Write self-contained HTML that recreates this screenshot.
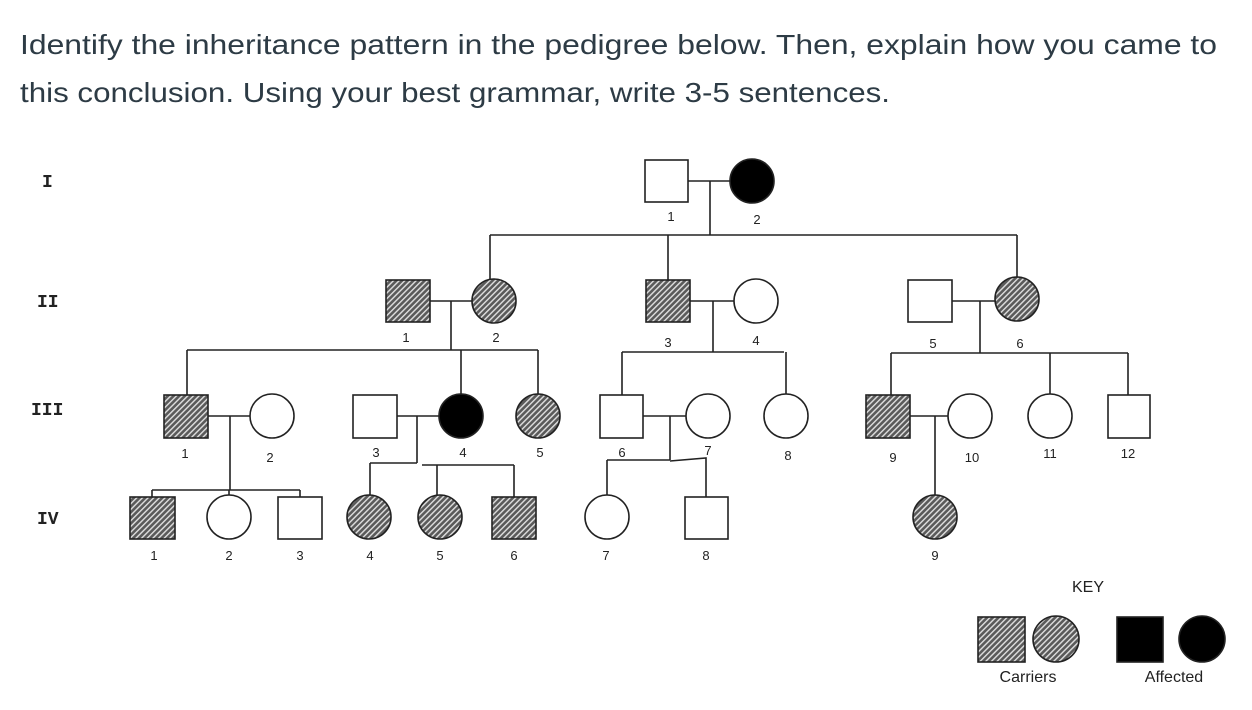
<!DOCTYPE html>
<html><head><meta charset="utf-8"><style>html,body{margin:0;padding:0;background:#fff;}svg{display:block}</style></head>
<body>
<svg width="1252" height="710" viewBox="0 0 1252 710" xmlns="http://www.w3.org/2000/svg">
<defs>
<pattern id="h" patternUnits="userSpaceOnUse" width="4" height="4" patternTransform="rotate(-45)">
<rect width="4" height="4" fill="#5a5a5a"/><rect width="4" height="1.4" fill="#e0e0e0"/>
</pattern>
</defs>
<g font-family="'Liberation Sans', sans-serif" font-size="28" fill="#2d3b45">
<text x="20" y="54" textLength="1197" lengthAdjust="spacingAndGlyphs">Identify the inheritance pattern in the pedigree below. Then, explain how you came to</text>
<text x="20" y="102" textLength="870" lengthAdjust="spacingAndGlyphs">this conclusion. Using your best grammar, write 3-5 sentences.</text>
</g>
<g font-family="'Liberation Mono', monospace" font-weight="bold" font-size="18" fill="#222">
<text x="42" y="187">I</text><text x="37" y="307">II</text><text x="31" y="415">III</text><text x="37" y="524">IV</text>
</g>
<g stroke="#222" stroke-width="1.6" fill="none">
<!-- lines -->
<path d="M688 181H730M710 181V235M490 235H1017M490 235V279M668 235V280M1017 235V277"/>
<path d="M430 301H472M451 301V350M187 350H538M187 350V395M461 350V394M538 350V394"/>
<path d="M690 301H734M713 301V352M622 352H784M622 352V395M786 352V394"/>
<path d="M952 301H995M980 301V353M891 353H1128M891 353V395M1050 353V394M1128 353V395"/>
<path d="M208 416H250M230 416V490M152 490H300M152 490V497M229 490V495M300 490V497"/>
<path d="M397 416H439M417 416V463M370 463H417M370 463V495M422 465H514M437 465V495M514 465V497"/>
<path d="M643 416H686M670 416V460M607 460H670M607 460V495M670 461L706 458V497"/>
<path d="M910 416H948M935 416V495"/>
</g>
<g stroke="#222" stroke-width="1.6">
<!-- gen I -->
<rect x="645" y="160" width="43" height="42" fill="#fff"/>
<circle cx="752" cy="181" r="22" fill="#000"/>
<!-- gen II -->
<rect x="386" y="280" width="44" height="42" fill="url(#h)"/>
<circle cx="494" cy="301" r="22" fill="url(#h)"/>
<rect x="646" y="280" width="44" height="42" fill="url(#h)"/>
<circle cx="756" cy="301" r="22" fill="#fff"/>
<rect x="908" y="280" width="44" height="42" fill="#fff"/>
<circle cx="1017" cy="299" r="22" fill="url(#h)"/>
<!-- gen III -->
<rect x="164" y="395" width="44" height="43" fill="url(#h)"/>
<circle cx="272" cy="416" r="22" fill="#fff"/>
<rect x="353" y="395" width="44" height="43" fill="#fff"/>
<circle cx="461" cy="416" r="22" fill="#000"/>
<circle cx="538" cy="416" r="22" fill="url(#h)"/>
<rect x="600" y="395" width="43" height="43" fill="#fff"/>
<circle cx="708" cy="416" r="22" fill="#fff"/>
<circle cx="786" cy="416" r="22" fill="#fff"/>
<rect x="866" y="395" width="44" height="43" fill="url(#h)"/>
<circle cx="970" cy="416" r="22" fill="#fff"/>
<circle cx="1050" cy="416" r="22" fill="#fff"/>
<rect x="1108" y="395" width="42" height="43" fill="#fff"/>
<!-- gen IV -->
<rect x="130" y="497" width="45" height="42" fill="url(#h)"/>
<circle cx="229" cy="517" r="22" fill="#fff"/>
<rect x="278" y="497" width="44" height="42" fill="#fff"/>
<circle cx="369" cy="517" r="22" fill="url(#h)"/>
<circle cx="440" cy="517" r="22" fill="url(#h)"/>
<rect x="492" y="497" width="44" height="42" fill="url(#h)"/>
<circle cx="607" cy="517" r="22" fill="#fff"/>
<rect x="685" y="497" width="43" height="42" fill="#fff"/>
<circle cx="935" cy="517" r="22" fill="url(#h)"/>
<!-- key -->
<rect x="978" y="617" width="47" height="45" fill="url(#h)"/>
<circle cx="1056" cy="639" r="23" fill="url(#h)"/>
<rect x="1117" y="617" width="46" height="45" fill="#000"/>
<circle cx="1202" cy="639" r="23" fill="#000"/>
</g>
<g font-family="'Liberation Sans', sans-serif" font-size="13" fill="#222" text-anchor="middle">
<text x="671" y="221">1</text><text x="757" y="224">2</text>
<text x="406" y="342">1</text><text x="496" y="342">2</text>
<text x="668" y="347">3</text><text x="756" y="345">4</text>
<text x="933" y="348">5</text><text x="1020" y="348">6</text>
<text x="185" y="458">1</text><text x="270" y="462">2</text>
<text x="376" y="457">3</text><text x="463" y="457">4</text><text x="540" y="457">5</text>
<text x="622" y="457">6</text><text x="708" y="455">7</text><text x="788" y="460">8</text>
<text x="893" y="462">9</text><text x="972" y="462">10</text><text x="1050" y="458">11</text><text x="1128" y="458">12</text>
<text x="154" y="560">1</text><text x="229" y="560">2</text><text x="300" y="560">3</text>
<text x="370" y="560">4</text><text x="440" y="560">5</text><text x="514" y="560">6</text>
<text x="606" y="560">7</text><text x="706" y="560">8</text><text x="935" y="560">9</text>
<text x="1088" y="592" font-size="16">KEY</text>
<text x="1028" y="682" font-size="16">Carriers</text>
<text x="1174" y="682" font-size="16">Affected</text>
</g>
</svg>
</body></html>
